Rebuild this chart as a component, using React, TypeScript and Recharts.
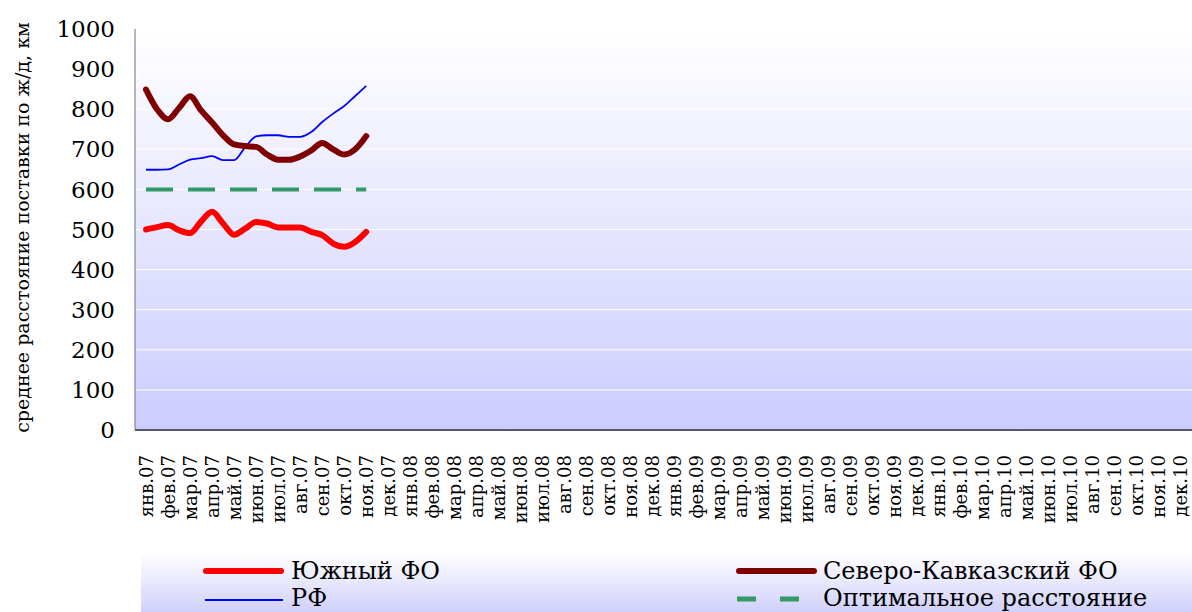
import React from 'react';
import { LineChart, Line, XAxis, YAxis, CartesianGrid } from 'recharts';

const monthLabels = [
  'янв.07', 'фев.07', 'мар.07', 'апр.07', 'май.07', 'июн.07', 'июл.07', 'авг.07', 'сен.07', 'окт.07', 'ноя.07', 'дек.07',
  'янв.08', 'фев.08', 'мар.08', 'апр.08', 'май.08', 'июн.08', 'июл.08', 'авг.08', 'сен.08', 'окт.08', 'ноя.08', 'дек.08',
  'янв.09', 'фев.09', 'мар.09', 'апр.09', 'май.09', 'июн.09', 'июл.09', 'авг.09', 'сен.09', 'окт.09', 'ноя.09', 'дек.09',
  'янв.10', 'фев.10', 'мар.10', 'апр.10', 'май.10', 'июн.10', 'июл.10', 'авг.10', 'сен.10', 'окт.10', 'ноя.10', 'дек.10',
];

const yTicks = [0, 100, 200, 300, 400, 500, 600, 700, 800, 900, 1000];

// observations every half month, янв.07 = 0
const periods = [0, 0.5, 1, 1.5, 2, 2.5, 3, 3.5, 4, 4.5, 5, 5.5, 6, 6.5, 7, 7.5, 8, 8.5, 9, 9.5, 10];
const yuzhnyFO = [500, 506, 511, 498, 491, 520, 544, 515, 487, 502, 519, 515, 505, 505, 505, 494, 486, 465, 457, 469, 494];
const severoKavkazFO = [849, 800, 775, 803, 832, 797, 767, 735, 712, 708, 706, 687, 674, 674, 682, 697, 716, 700, 687, 700, 733];
const rfValues = [649, 649, 650, 662, 674, 678, 683, 673, 673, 705, 732, 735, 735, 731, 731, 743, 768, 789, 808, 833, 858];
const optimalDistance = [600, 600, 600, 600, 600, 600, 600, 600, 600, 600, 600, 600, 600, 600, 600, 600, 600, 600, 600, 600, 600];

const data = periods.map((m, i) => ({
  m,
  yuzhny: yuzhnyFO[i],
  skfo: severoKavkazFO[i],
  rf: rfValues[i],
  opt: optimalDistance[i],
}));

const monthTicks = monthLabels.map((_, i) => i);

const FONT = '"DejaVu Serif", serif';

const MonthTick = (props: any) => {
  const { x, y, payload } = props;
  const ty = y + 17;
  return (
    <text
      x={x}
      y={ty}
      transform={`rotate(-90, ${x}, ${ty})`}
      textAnchor="end"
      dominantBaseline="central"
      fontFamily={FONT}
      fontSize={18}
      fill="#000"
    >
      {monthLabels[payload.value]}
    </text>
  );
};

const YTitle = (props: any) => {
  const vb = props.viewBox || { x: 0, y: 29, width: 135, height: 401 };
  const cy = vb.y + vb.height / 2 - 2;
  return (
    <text
      x={22}
      y={cy}
      transform={`rotate(-90, 22, ${cy})`}
      textAnchor="middle"
      dominantBaseline="central"
      fontFamily={FONT}
      fontSize={19}
      fill="#000"
    >
      среднее расстояние поставки по ж/д, км
    </text>
  );
};

const legendText: React.CSSProperties = {
  position: 'absolute',
  fontFamily: FONT,
  fontSize: 24,
  lineHeight: '24px',
  height: 24,
  whiteSpace: 'nowrap',
  color: '#000',
};

const ChartLegend = () => (
  <div
    style={{
      position: 'absolute',
      left: 141,
      top: 553,
      width: 1051,
      height: 59,
      background: 'linear-gradient(#ffffff, #d0d0fa)',
    }}
  >
    <svg width={1051} height={59} style={{ position: 'absolute', left: 0, top: 0 }}>
      <line x1={65} y1={18} x2={140} y2={18} stroke="#ff0000" strokeWidth={6} strokeLinecap="round" />
      <line x1={64} y1={47} x2={142} y2={47} stroke="#0000ff" strokeWidth={2} />
      <line x1={598} y1={18} x2={673} y2={18} stroke="#800000" strokeWidth={6} strokeLinecap="round" />
      <line x1={596} y1={46} x2={667} y2={46} stroke="#339966" strokeWidth={5} strokeDasharray="19 24" />
    </svg>
    <div style={{ ...legendText, left: 150, top: 6 }}>Южный ФО</div>
    <div style={{ ...legendText, left: 150, top: 33 }}>РФ</div>
    <div style={{ ...legendText, left: 682, top: 6 }}>Северо-Кавказский ФО</div>
    <div style={{ ...legendText, left: 682, top: 33 }}>Оптимальное расстояние</div>
  </div>
);

export default function App() {
  return (
    <div style={{ position: 'absolute', left: 0, top: 0, width: 1192, height: 612, background: '#fff' }}>
      <svg width={0} height={0} style={{ position: 'absolute' }}>
        <defs>
          <linearGradient id="plotBg" x1="0" y1="0" x2="0" y2="1">
            <stop offset="0" stopColor="#ffffff" />
            <stop offset="1" stopColor="#ccccff" />
          </linearGradient>
        </defs>
      </svg>
      <LineChart width={1192} height={612} data={data} margin={{ top: 29, right: 0, bottom: 62, left: 0 }}>
        <CartesianGrid vertical={false} stroke="#ffffff" fill="url(#plotBg)" />
        <XAxis
          dataKey="m"
          type="number"
          domain={[-0.5, 47.5]}
          ticks={monthTicks}
          interval={0}
          tick={<MonthTick />}
          tickLine={false}
          axisLine={{ stroke: '#5a5a6e', strokeWidth: 2 }}
          height={120}
          allowDataOverflow
        />
        <YAxis
          type="number"
          domain={[0, 1000]}
          ticks={yTicks}
          interval={0}
          width={135}
          tickLine={false}
          tickSize={0}
          tickMargin={20}
          axisLine={{ stroke: '#6e6e80' }}
          tick={{ fontFamily: FONT, fontSize: 23, fill: '#000' }}
          label={YTitle}
        />
        <Line dataKey="opt" type="linear" stroke="#339966" strokeWidth={4} strokeDasharray="27 15" dot={false} isAnimationActive={false} />
        <Line dataKey="rf" type="monotone" stroke="#0000ff" strokeWidth={1.8} dot={false} isAnimationActive={false} />
        <Line dataKey="skfo" type="monotone" stroke="#800000" strokeWidth={6} strokeLinecap="round" strokeLinejoin="round" dot={false} isAnimationActive={false} />
        <Line dataKey="yuzhny" type="monotone" stroke="#ff0000" strokeWidth={6} strokeLinecap="round" strokeLinejoin="round" dot={false} isAnimationActive={false} />
      </LineChart>
      <ChartLegend />
    </div>
  );
}
